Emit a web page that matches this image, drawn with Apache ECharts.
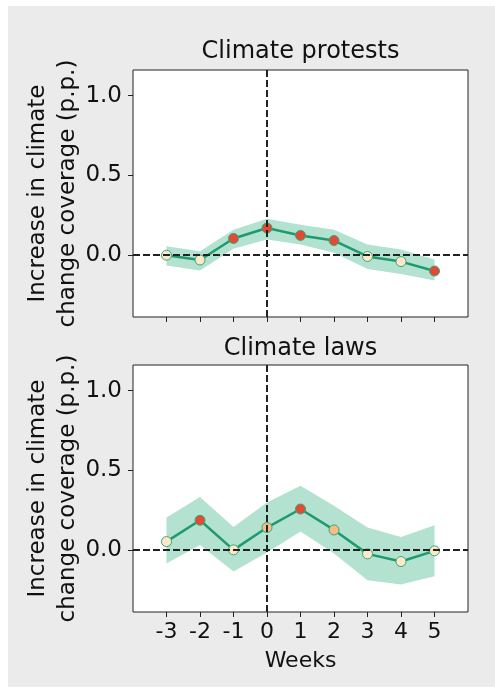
<!DOCTYPE html>
<html>
<head>
<meta charset="utf-8">
<script src="https://cdn.jsdelivr.net/npm/echarts@6/dist/echarts.min.js"></script>
<style>
  html, body { margin: 0; padding: 0; background: #fff; }
  #chart { width: 495px; height: 688px; }
</style>
</head>
<body>
<div id="chart"></div>
<script>
// weeks relative to the event
const weeks = [-3, -2, -1, 0, 1, 2, 3, 4, 5];
const yTicks = [0, 0.5, 1.0];

// Climate protests
const protestsMean = [0.0, -0.03, 0.105, 0.17, 0.124, 0.092, -0.008, -0.04, -0.099];
const protestsLow = [-0.065, -0.096, 0.04, 0.098, 0.067, 0.015, -0.086, -0.117, -0.159];
const protestsHigh = [0.056, 0.025, 0.16, 0.228, 0.19, 0.16, 0.067, 0.036, -0.027];
const protestsLevel = [0, 0, 2, 2, 2, 2, 0, 0, 2];

// Climate laws
const lawsMean = [0.054, 0.1875, 0.002, 0.142, 0.258, 0.127, -0.023, -0.071, -0.004];
const lawsLow = [-0.083, 0.033, -0.134, -0.015, 0.117, -0.02, -0.188, -0.215, -0.163];
const lawsHigh = [0.205, 0.334, 0.146, 0.299, 0.403, 0.278, 0.142, 0.083, 0.157];
const lawsLevel = [0, 2, 0, 1, 2, 1, 0, 0, 0];

const titles = ['Climate protests', 'Climate laws'];
const levelColors = ['#fee8c8', '#fdbb84', '#e34a33'];

const FONT = 'DejaVu Sans';
const TXT = '#111';
const grids = [
  { left: 133, top: 70, width: 335, height: 247 },
  { left: 133, top: 365, width: 335, height: 247 }
];

const chart = echarts.init(document.getElementById('chart'));

function xAxisFor(i) {
  return {
    type: 'value', gridIndex: i, min: -4, max: 6,
    axisLine: { show: false, onZero: false },
    splitLine: { show: false },
    axisTick: { show: true, customValues: weeks, length: 5, lineStyle: { color: '#222' } },
    axisLabel: {
      show: i === 1, customValues: weeks, margin: 9,
      fontFamily: FONT, fontSize: 22, color: TXT
    },
    name: i === 1 ? 'Weeks' : '',
    nameLocation: 'middle', nameGap: 38, nameMoveOverlap: false,
    nameTextStyle: { fontFamily: FONT, fontSize: 22, color: TXT }
  };
}

function yAxisFor(i) {
  return {
    type: 'value', gridIndex: i, min: -0.387, max: 1.16,
    axisLine: { show: false, onZero: false },
    splitLine: { show: false },
    axisTick: { show: true, customValues: yTicks, length: 5, lineStyle: { color: '#222' } },
    axisLabel: {
      customValues: yTicks, margin: 11,
      formatter: v => v.toFixed(1),
      fontFamily: FONT, fontSize: 23, color: TXT
    },
    name: 'Increase in climate\nchange coverage (p.p.)',
    nameLocation: 'middle', nameGap: 50, nameRotate: 90, nameMoveOverlap: false,
    nameTextStyle: { fontFamily: FONT, fontSize: 23, color: TXT, lineHeight: 30 }
  };
}

function panelSeries(i, mean, low, high, level) {
  return [
    {
      // confidence band drawn as one polygon through the axis scales
      type: 'custom', xAxisIndex: i, yAxisIndex: i, z: 1,
      data: weeks.map((w, k) => [w, low[k], high[k]]),
      renderItem: function (params, api) {
        if (params.dataIndex !== 0) return null;
        const upper = weeks.map((w, k) => api.coord([w, high[k]]));
        const lower = weeks.map((w, k) => api.coord([w, low[k]])).reverse();
        return {
          type: 'polygon',
          shape: { points: upper.concat(lower) },
          style: { fill: '#b3e2d1' }
        };
      }
    },
    {
      type: 'line', xAxisIndex: i, yAxisIndex: i, z: 2,
      data: [], symbol: 'none',
      markLine: {
        silent: true, symbol: 'none', animation: false,
        label: { show: false },
        lineStyle: { type: [7, 3], color: '#222', width: 2 },
        data: [{ xAxis: 0 }, { yAxis: 0 }]
      }
    },
    {
      type: 'line', xAxisIndex: i, yAxisIndex: i, z: 3,
      data: weeks.map((w, k) => ({
        value: [w, mean[k]],
        itemStyle: { color: levelColors[level[k]] }
      })),
      symbol: 'circle', symbolSize: 10,
      lineStyle: { color: '#1f9a6e', width: 2.5 },
      itemStyle: { borderColor: '#3aa57c', borderWidth: 1 }
    }
  ];
}

const option = {
  animation: false,
  backgroundColor: '#fff',
  graphic: [
    { type: 'rect', z: -10, shape: { x: 8, y: 6, width: 487, height: 681 }, style: { fill: '#ebebeb' } },
    { type: 'text', style: { text: titles[0], x: 300.5, y: 52, align: 'center', verticalAlign: 'middle', fontFamily: FONT, fontSize: 24, fill: TXT } },
    { type: 'text', style: { text: titles[1], x: 300.5, y: 349, align: 'center', verticalAlign: 'middle', fontFamily: FONT, fontSize: 24, fill: TXT } }
  ],
  grid: grids.map(g => Object.assign({
    show: true, backgroundColor: '#fff', borderColor: '#222', borderWidth: 1
  }, g)),
  xAxis: [xAxisFor(0), xAxisFor(1)],
  yAxis: [yAxisFor(0), yAxisFor(1)],
  series: [
    ...panelSeries(0, protestsMean, protestsLow, protestsHigh, protestsLevel),
    ...panelSeries(1, lawsMean, lawsLow, lawsHigh, lawsLevel)
  ]
};

chart.setOption(option);
</script>
</body>
</html>
